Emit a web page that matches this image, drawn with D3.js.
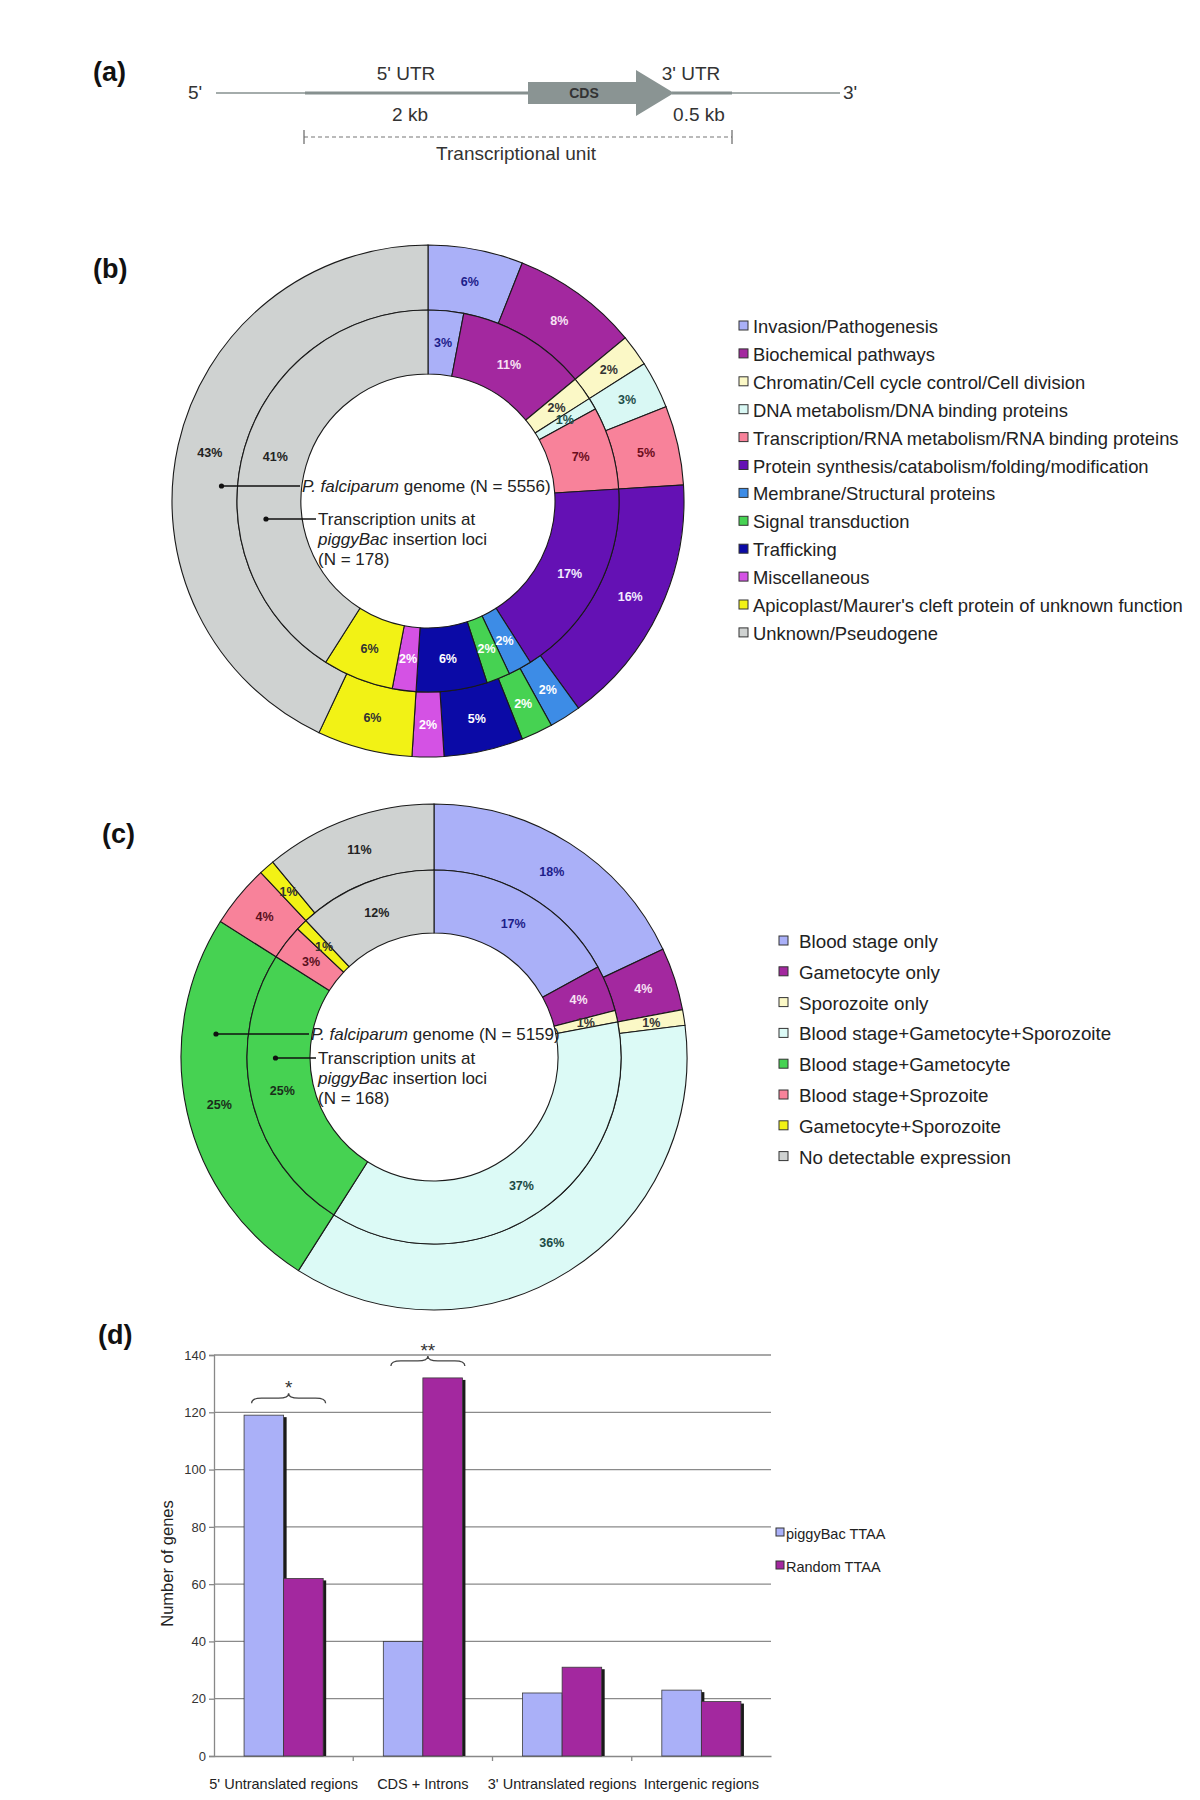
<!DOCTYPE html>
<html>
<head>
<meta charset="utf-8">
<script src="https://cdn.jsdelivr.net/npm/d3@7"></script>
<style>
  body { margin: 0; background: #fff; }
  svg  { display: block; font-family: "Liberation Sans", Arial, sans-serif; }
</style>
</head>
<body>
<svg id="figura" width="1200" height="1800"></svg>
<script>
/*═══════════════════════════════════════════════════════════════
  DATOS
═══════════════════════════════════════════════════════════════*/
// Panel (b) – categorías funcionales (%)
const funcCategorias = [
  "Invasion/Pathogenesis",
  "Biochemical pathways",
  "Chromatin/Cell cycle control/Cell division",
  "DNA metabolism/DNA binding proteins",
  "Transcription/RNA metabolism/RNA binding proteins",
  "Protein synthesis/catabolism/folding/modification",
  "Membrane/Structural proteins",
  "Signal transduction",
  "Trafficking",
  "Miscellaneous",
  "Apicoplast/Maurer's cleft protein of unknown function",
  "Unknown/Pseudogene"
];
const funcGenoma   = [6, 8, 2, 3, 5, 16, 2, 2, 5, 2, 6, 43];
const funcPiggyBac = [3, 11, 2, 1, 7, 17, 2, 2, 6, 2, 6, 41];

// Panel (c) – etapas de expresión (%)
const expCategorias = [
  "Blood stage only",
  "Gametocyte only",
  "Sporozoite only",
  "Blood stage+Gametocyte+Sporozoite",
  "Blood stage+Gametocyte",
  "Blood stage+Sprozoite",
  "Gametocyte+Sporozoite",
  "No detectable expression"
];
const expGenoma   = [18, 4, 1, 36, 25, 4, 1, 11];
const expPiggyBac = [17, 4, 1, 37, 25, 3, 1, 12];

// Panel (d) – número de genes por región
const regiones    = ["5' Untranslated regions", "CDS + Introns", "3' Untranslated regions", "Intergenic regions"];
const series      = ["piggyBac TTAA", "Random TTAA"];
const valPiggyBac = [119, 40, 22, 23];
const valRandom   = [62, 132, 31, 19];
const ticksY      = [0, 20, 40, 60, 80, 100, 120, 140];
const significancia = ["*", "**", "", ""];

/*═══════════════════════════════════════════════════════════════
  ESTILOS
═══════════════════════════════════════════════════════════════*/
const funcColores = ["#aab0f8", "#a3289f", "#fbf8c6", "#d9f8f4", "#f8829a", "#6411b4",
                     "#3d8ce6", "#46d252", "#0b0aa6", "#d452e4", "#f2f215", "#cfd2d1"];
const funcTexto   = ["#1d1d8a", "#f7e2f4", "#333", "#1f4f4a", "#6b0d1c", "#f3ecff",
                     "#fff", "#fff", "#fff", "#fff", "#333", "#222"];
const expColores  = ["#aab0f8", "#a3289f", "#fbf8c6", "#dcfaf6", "#46d252", "#f8829a", "#f2f215", "#cfd2d1"];
const expTexto    = ["#1d1d8a", "#f7e2f4", "#333", "#1b4a44", "#1a2e1a", "#5a1020", "#333", "#222"];
const colorSeries = ["#aab0f8", "#a3289f"];

const svg = d3.select("#figura");
svg.append("rect").attr("width", 1200).attr("height", 1800).attr("fill", "#fff");

/* etiquetas de panel */
[["(a)", 93, 81], ["(b)", 93, 278], ["(c)", 102, 843], ["(d)", 98, 1344]].forEach(([t, x, yy]) => {
  svg.append("text").attr("x", x).attr("y", yy)
    .attr("font-size", 27).attr("font-weight", 700).attr("fill", "#111").text(t);
});

/*═══════════════════════════════════════════════════════════════
  PANEL (a) – esquema de la unidad transcripcional
═══════════════════════════════════════════════════════════════*/
const gA = svg.append("g");
const lineaY = 93;
const gris = "#86908f";
gA.append("line").attr("x1", 216).attr("x2", 305).attr("y1", lineaY).attr("y2", lineaY)
  .attr("stroke", gris).attr("stroke-width", 1.4);
gA.append("line").attr("x1", 305).attr("x2", 530).attr("y1", lineaY).attr("y2", lineaY)
  .attr("stroke", gris).attr("stroke-width", 3);
gA.append("line").attr("x1", 672).attr("x2", 732).attr("y1", lineaY).attr("y2", lineaY)
  .attr("stroke", gris).attr("stroke-width", 3);
gA.append("line").attr("x1", 732).attr("x2", 840).attr("y1", lineaY).attr("y2", lineaY)
  .attr("stroke", gris).attr("stroke-width", 1.4);
gA.append("path")
  .attr("d", `M528,${lineaY - 11} L636,${lineaY - 11} L636,${lineaY - 23} L674,${lineaY} L636,${lineaY + 23} L636,${lineaY + 11} L528,${lineaY + 11} Z`)
  .attr("fill", "#8a9493");
gA.append("text").attr("x", 584).attr("y", lineaY + 5).attr("text-anchor", "middle")
  .attr("font-size", 14).attr("font-weight", 700).attr("fill", "#333").text("CDS");

const textosA = [
  ["5'", 188, 99, "start"], ["3'", 843, 99, "start"],
  ["5' UTR", 406, 80, "middle"], ["3' UTR", 691, 80, "middle"],
  ["2 kb", 410, 121, "middle"], ["0.5 kb", 699, 121, "middle"],
  ["Transcriptional unit", 516, 160, "middle"]
];
textosA.forEach(([t, x, yy, a]) => {
  gA.append("text").attr("x", x).attr("y", yy).attr("text-anchor", a)
    .attr("font-size", 19).attr("fill", "#333").text(t);
});
gA.append("line").attr("x1", 304).attr("x2", 732).attr("y1", 137).attr("y2", 137)
  .attr("stroke", "#777").attr("stroke-width", 1.2).attr("stroke-dasharray", "4,3");
[304, 732].forEach(x => gA.append("line").attr("x1", x).attr("x2", x).attr("y1", 130).attr("y2", 144)
  .attr("stroke", "#666").attr("stroke-width", 1.2));

/*═══════════════════════════════════════════════════════════════
  DONAS (b) y (c)
═══════════════════════════════════════════════════════════════*/
function dona(cfg) {
  const g = svg.append("g").attr("transform", `translate(${cfg.cx},${cfg.cy})`);
  const pie = d3.pie().sort(null).value(d => d);

  const anillos = [
    { vals: cfg.externo, r0: cfg.rMid, r1: cfg.rOut },
    { vals: cfg.interno, r0: cfg.rIn,  r1: cfg.rMid }
  ];
  anillos.forEach(an => {
    const arc = d3.arc().innerRadius(an.r0).outerRadius(an.r1);
    const arcos = pie(an.vals);
    g.append("g").selectAll("path").data(arcos).join("path")
      .attr("d", arc)
      .attr("fill", (d, i) => cfg.colores[i])
      .attr("stroke", "#1a1a1a").attr("stroke-width", 1.1);
    g.append("g").selectAll("text").data(arcos).join("text")
      .attr("transform", d => `translate(${arc.centroid(d)})`)
      .attr("text-anchor", "middle").attr("dy", "0.35em")
      .attr("font-size", 12.5).attr("font-weight", 700)
      .attr("fill", (d, i) => cfg.texto[i])
      .text(d => d.data + "%");
  });

  /* líneas guía y textos del centro */
  const tam = 17, tinta = "#222";
  function guia(xDot, yLinea, xFin) {
    g.append("circle").attr("cx", xDot).attr("cy", yLinea).attr("r", 2.6).attr("fill", "#111");
    g.append("line").attr("x1", xDot).attr("x2", xFin - 2)
      .attr("y1", yLinea).attr("y2", yLinea).attr("stroke", "#111").attr("stroke-width", 1.3);
  }
  guia(-(cfg.rOut + cfg.rMid) / 2 + cfg.ajusteExt, cfg.yGenoma, cfg.xGenoma);
  const t1 = g.append("text").attr("x", cfg.xGenoma).attr("y", cfg.yGenoma + 6)
    .attr("font-size", tam).attr("fill", tinta);
  t1.append("tspan").attr("font-style", "italic").text("P. falciparum");
  t1.append("tspan").text(` genome (N = ${cfg.nGenoma})`);

  guia(-(cfg.rMid + cfg.rIn) / 2 - 3, cfg.yPiggy, cfg.xPiggy);
  const lineas = [[["", "Transcription units at"]], [["i", "piggyBac"], ["", " insertion loci"]], [["", `(N = ${cfg.nPiggy})`]]];
  lineas.forEach((partes, k) => {
    const t = g.append("text").attr("x", cfg.xPiggy).attr("y", cfg.yPiggy + 6 + k * 20)
      .attr("font-size", tam).attr("fill", tinta);
    partes.forEach(([estilo, s]) => t.append("tspan").attr("font-style", estilo ? "italic" : "normal").text(s));
  });
}

function leyenda(cats, colores, x, y0, paso, sep, tam) {
  const g = svg.append("g");
  cats.forEach((c, i) => {
    const yy = y0 + i * paso;
    g.append("rect").attr("x", x).attr("y", yy - 6).attr("width", 9).attr("height", 9)
      .attr("fill", colores[i]).attr("stroke", "#333").attr("stroke-width", 1);
    g.append("text").attr("x", x + sep).attr("y", yy + 6)
      .attr("font-size", tam).attr("fill", "#222").text(c);
  });
}

dona({ cx: 428, cy: 501, rOut: 256, rMid: 191, rIn: 127,
       externo: funcGenoma, interno: funcPiggyBac, colores: funcColores, texto: funcTexto,
       xGenoma: -126, xPiggy: -110, yGenoma: -15, yPiggy: 18, nGenoma: 5556, nPiggy: 178, ajusteExt: 17 });
leyenda(funcCategorias, funcColores, 739, 327, 27.9, 14, 18.4);

dona({ cx: 434, cy: 1057, rOut: 253, rMid: 187, rIn: 124,
       externo: expGenoma, interno: expPiggyBac, colores: expColores, texto: expTexto,
       xGenoma: -123, xPiggy: -116, yGenoma: -23, yPiggy: 1, nGenoma: 5159, nPiggy: 168, ajusteExt: 2 });
leyenda(expCategorias, expColores, 779, 942, 30.8, 20, 18.8);

/*═══════════════════════════════════════════════════════════════
  PANEL (d) – barras agrupadas
═══════════════════════════════════════════════════════════════*/
const gD = svg.append("g");
const x0 = d3.scaleBand().domain(regiones).range([214, 771]).padding(0);
const x1 = d3.scaleBand().domain(series).range([0, x0.bandwidth()]).paddingInner(0).paddingOuter(0.76);
const y  = d3.scaleLinear().domain([0, 140]).range([1756, 1355]);
const xIni = x0.range()[0], xFin = x0.range()[1];

// rejilla
gD.append("g").selectAll("line").data(ticksY.slice(1)).join("line")
  .attr("x1", xIni).attr("x2", xFin).attr("y1", d => y(d)).attr("y2", d => y(d))
  .attr("stroke", "#8a8a8a").attr("stroke-width", 1.3);

// eje Y
const ejeY = gD.append("g").attr("transform", `translate(${xIni},0)`)
  .call(d3.axisLeft(y).tickValues(ticksY).tickSize(5).tickPadding(3));
ejeY.select(".domain").attr("stroke", "#888").attr("stroke-width", 1.3);
ejeY.selectAll(".tick line").attr("stroke", "#888").attr("stroke-width", 1.3);
ejeY.selectAll(".tick text").attr("font-size", 13).attr("fill", "#333")
  .attr("font-family", "'Liberation Sans Narrow','Liberation Sans',Arial,sans-serif");

// eje X
const ejeX = gD.append("g").attr("transform", `translate(0,${y(0)})`)
  .call(d3.axisBottom(x0).tickSize(0).tickPadding(23));
ejeX.select(".domain").attr("stroke", "#888").attr("stroke-width", 1.3);
ejeX.selectAll(".tick text").attr("font-size", 14.5).attr("fill", "#222")
  .attr("font-family", "'Liberation Sans Narrow','Liberation Sans',Arial,sans-serif");
gD.append("g").selectAll("line").data(regiones.slice(1)).join("line")
  .attr("x1", d => x0(d)).attr("x2", d => x0(d))
  .attr("y1", y(0)).attr("y2", y(0) + 5).attr("stroke", "#888").attr("stroke-width", 1.3);

// barras
const filas = regiones.map((r, i) => ({ region: r, valores: [valPiggyBac[i], valRandom[i]] }));
const grupos = gD.append("g").selectAll("g").data(filas).join("g")
  .attr("transform", d => `translate(${x0(d.region)},0)`);
grupos.selectAll("rect.sombra").data(d => d.valores).join("rect").attr("class", "sombra")
  .attr("x", (d, i) => x1(series[i]) + 3).attr("y", d => y(d) + 2)
  .attr("width", x1.bandwidth()).attr("height", d => y(0) - y(d) - 2)
  .attr("fill", "#1a1a1a");
grupos.selectAll("rect.barra").data(d => d.valores).join("rect").attr("class", "barra")
  .attr("x", (d, i) => x1(series[i])).attr("y", d => y(d))
  .attr("width", x1.bandwidth()).attr("height", d => y(0) - y(d))
  .attr("fill", (d, i) => colorSeries[i])
  .attr("stroke", "#3a3a3a").attr("stroke-width", 0.8);

// llaves de significancia
function llave(xc, yb, mitad, h) {
  const r = h / 2;
  return `M${xc - mitad},${yb} Q${xc - mitad},${yb - r} ${xc - mitad + 2 * r},${yb - r}` +
         ` L${xc - 2 * r},${yb - r} Q${xc},${yb - r} ${xc},${yb - h}` +
         ` Q${xc},${yb - r} ${xc + 2 * r},${yb - r} L${xc + mitad - 2 * r},${yb - r}` +
         ` Q${xc + mitad},${yb - r} ${xc + mitad},${yb}`;
}
filas.forEach((f, i) => {
  if (!significancia[i]) return;
  const xc = x0(f.region) + x0.bandwidth() / 2 + 5;
  const yb = y(d3.max(f.valores)) - 12;
  gD.append("path").attr("d", llave(xc, yb, 37, 10))
    .attr("fill", "none").attr("stroke", "#444").attr("stroke-width", 1.3);
  gD.append("text").attr("x", xc).attr("y", yb - 10 + 1).attr("text-anchor", "middle")
    .attr("font-size", 19).attr("fill", "#333").text(significancia[i]);
});

// título eje Y
gD.append("text").attr("transform", `translate(173,${(y(0) + y(140)) / 2 + 8}) rotate(-90)`)
  .attr("text-anchor", "middle").attr("font-size", 16.5).attr("fill", "#222").text("Number of genes");

// leyenda (d)
series.forEach((s, i) => {
  const yy = 1534 + i * 33;
  gD.append("rect").attr("x", 776).attr("y", yy - 6).attr("width", 8).attr("height", 8)
    .attr("fill", colorSeries[i]).attr("stroke", "#333").attr("stroke-width", 1);
  gD.append("text").attr("x", 786).attr("y", yy + 5).attr("font-size", 14.5).attr("fill", "#222").text(s);
});
</script>
</body>
</html>
